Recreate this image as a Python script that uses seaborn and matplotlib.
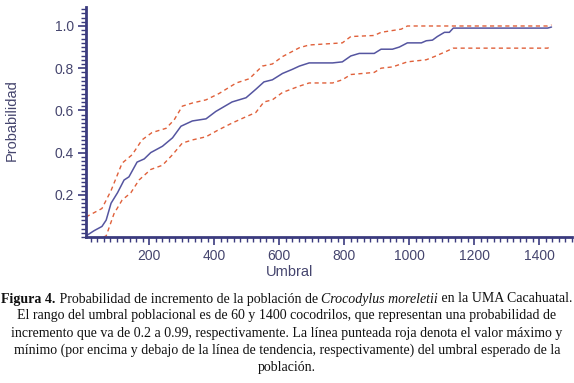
import numpy as np
import pandas as pd
import matplotlib
matplotlib.use("Agg")
import matplotlib.pyplot as plt
import seaborn as sns
from matplotlib.ticker import MultipleLocator

# ---- data ----
mid_x = [6, 31, 55, 68, 83, 103, 123, 138, 163, 185, 205, 241, 272, 298, 333, 375, 405,
         455, 498, 528, 553, 579, 610, 641, 662, 692, 764, 794, 820, 846, 892, 913, 948,
         969, 994, 1037, 1052, 1071, 1086, 1108, 1123, 1135, 1425, 1437]
mid_y = [0.005, 0.03, 0.05, 0.08, 0.16, 0.21, 0.27, 0.285, 0.355, 0.37, 0.40, 0.43, 0.47,
         0.525, 0.55, 0.56, 0.595, 0.64, 0.66, 0.70, 0.735, 0.745, 0.775, 0.795, 0.81,
         0.825, 0.825, 0.83, 0.858, 0.87, 0.87, 0.89, 0.89, 0.90, 0.92, 0.92, 0.93, 0.933,
         0.95, 0.97, 0.97, 0.99, 0.99, 0.995]

up_x = [6, 55, 83, 117, 148, 178, 209, 252, 277, 302, 333, 375, 415, 468, 508, 548, 579,
        610, 662, 692, 794, 820, 892, 913, 975, 994, 1425, 1437]
up_y = [0.095, 0.135, 0.22, 0.35, 0.39, 0.46, 0.495, 0.515, 0.555, 0.62, 0.635, 0.65,
        0.68, 0.73, 0.75, 0.81, 0.82, 0.855, 0.897, 0.91, 0.92, 0.95, 0.955, 0.97, 0.985,
        1.0, 1.0, 1.005]

lo_x = [60, 68, 92, 117, 144, 169, 205, 241, 272, 302, 333, 375, 410, 455, 498, 528, 553,
        579, 610, 662, 692, 764, 794, 820, 892, 913, 948, 994, 1052, 1077, 1114, 1135,
        1425, 1437]
lo_y = [0.0, 0.005, 0.11, 0.175, 0.21, 0.27, 0.32, 0.34, 0.39, 0.445, 0.46, 0.475, 0.505,
        0.54, 0.57, 0.59, 0.64, 0.65, 0.685, 0.715, 0.73, 0.73, 0.745, 0.77, 0.78, 0.80,
        0.806, 0.83, 0.84, 0.855, 0.88, 0.895, 0.895, 0.905]

x_ticks = [200, 400, 600, 800, 1000, 1200, 1400]
y_ticks = [0.2, 0.4, 0.6, 0.8, 1.0]
y_tick_labels = ["0.2", "0.4", "0.6", "0.8", "1.0"]

caption_lines = [
    [("Figura 4.", "bold", "normal"), (" Probabilidad de incremento de la población de ", "normal", "normal"),
     ("Crocodylus moreletii", "normal", "italic"), (" en la UMA Cacahuatal.", "normal", "normal")],
    [("El rango del umbral poblacional es de 60 y 1400 cocodrilos, que representan una probabilidad de", "normal", "normal")],
    [("incremento que va de 0.2 a 0.99, respectivamente. La línea punteada roja denota el valor máximo y", "normal", "normal")],
    [("mínimo (por encima y debajo de la línea de tendencia, respectivamente) del umbral esperado de la", "normal", "normal")],
    [("población.", "normal", "normal")],
]

# ---- style ----
sns.set_theme(style="white")
plt.rcParams['font.family'] = ['Liberation Sans', 'DejaVu Sans']

axis_col = "#3b3b7e"
label_col = "#45456e"
mid_col = "#5555a0"
dash_col = "#e0603a"

W, H = 574, 383
fig = plt.figure(figsize=(W / 100, H / 100), dpi=100)
ax = fig.add_axes([86 / W, 146 / H, (572 - 86) / W, (237 - 7) / H])

df_mid = pd.DataFrame({"x": mid_x, "y": mid_y})
df_up = pd.DataFrame({"x": up_x, "y": up_y})
df_lo = pd.DataFrame({"x": lo_x, "y": lo_y})

sns.lineplot(data=df_up, x="x", y="y", ax=ax, color=dash_col, lw=1.0,
             linestyle=(0, (3, 2.5)), estimator=None, sort=False)
sns.lineplot(data=df_lo, x="x", y="y", ax=ax, color=dash_col, lw=1.0,
             linestyle=(0, (3, 2.5)), estimator=None, sort=False)
sns.lineplot(data=df_mid, x="x", y="y", ax=ax, color=mid_col, lw=1.1,
             estimator=None, sort=False)

ax.set_xlim(6, 1500)
ax.set_ylim(0, 1.09)
ax.set_xticks(x_ticks)
ax.set_yticks(y_ticks)
ax.set_yticklabels(y_tick_labels)
ax.xaxis.set_minor_locator(MultipleLocator(20))
ax.yaxis.set_minor_locator(MultipleLocator(0.02))

for s in ["top", "right"]:
    ax.spines[s].set_visible(False)
for s in ["left", "bottom"]:
    ax.spines[s].set_color(axis_col)
    ax.spines[s].set_linewidth(2.0)

ax.tick_params(axis="both", which="major", direction="out", length=5.5, width=1.2,
               color=axis_col, labelcolor=label_col, labelsize=10, pad=3,
               bottom=True, left=True)
ax.tick_params(axis="both", which="minor", direction="out", length=3.5, width=1.0,
               color=axis_col, bottom=True, left=True)

ax.set_xlabel("")
ax.set_ylabel("")
fig.text(290 / W, 1 - 272 / H, "Umbral", ha="center", va="center", fontsize=10.5, color=label_col)
fig.text(12 / W, 1 - 120 / H, "Probabilidad", ha="center", va="center", rotation=90,
         fontsize=10.5, color=label_col)

# ---- caption with mixed styles ----
fig.canvas.draw()
renderer = fig.canvas.get_renderer()
cap_size = 10.0
line_ys = [299, 316, 333, 350, 367]
for runs, ypix in zip(caption_lines, line_ys):
    widths = []
    for txt, wgt, sty in runs:
        t = fig.text(0, 0, txt, fontsize=cap_size, fontweight=wgt, fontstyle=sty,
                     family="Liberation Serif")
        bb = t.get_window_extent(renderer=renderer)
        widths.append(bb.width)
        t.remove()
    total = sum(widths)
    x0 = (W - total) / 2
    for (txt, wgt, sty), w in zip(runs, widths):
        fig.text(x0 / W, 1 - ypix / H, txt, fontsize=cap_size, fontweight=wgt,
                 fontstyle=sty, family="Liberation Serif", ha="left", va="center",
                 color="#111111")
        x0 += w

fig.savefig("out.png", dpi=100)
